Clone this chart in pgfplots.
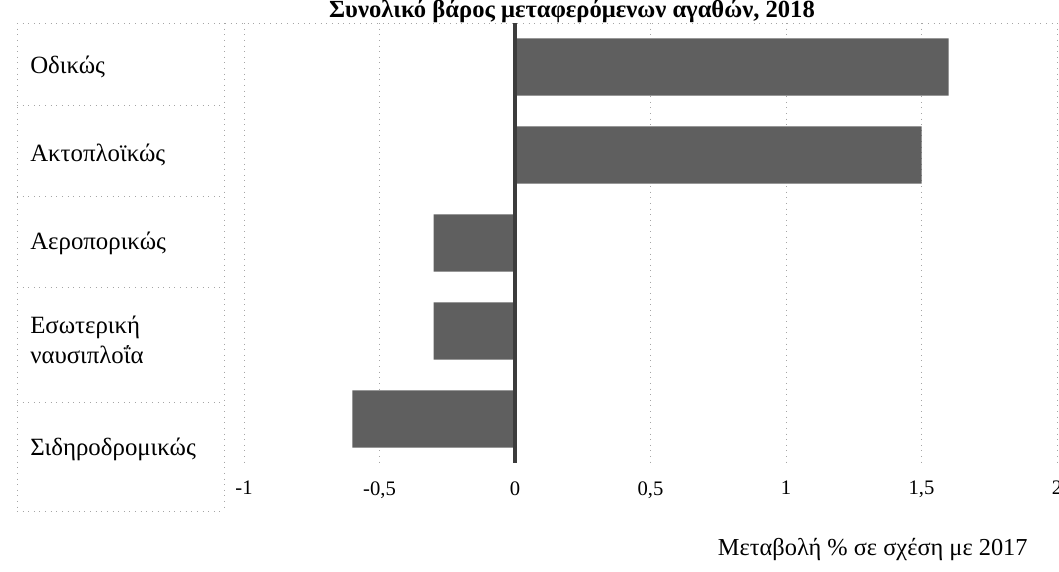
\documentclass[border=0pt]{standalone}
\usepackage{fontspec}
\setmainfont{Liberation Serif}
\usepackage{pgfplots}
\pgfplotsset{compat=1.18}
\definecolor{barfill}{RGB}{95,95,95}
\definecolor{gridgray}{RGB}{165,165,165}
\definecolor{zeroline}{RGB}{60,60,60}

\begin{document}
\begin{tikzpicture}
% 1 px of the reference = 0.015cm, origin top left
\begin{scope}[x=0.015cm, y=-0.015cm]
  % frame of the category column
  \draw[gridgray, dotted] (17,23) -- (1059,23);
  \foreach \yy in {105,196,287,402,511}
    \draw[gridgray, dotted] (17,\yy) -- (224,\yy);
  \draw[gridgray, dotted] (17,23) -- (17,511);
  \draw[gridgray, dotted] (224,23) -- (224,511);
  \node[font=\bfseries\fontsize{10.5}{12}\selectfont, anchor=base]
    at (572,17) {Συνολικό βάρος μεταφερόμενων αγαθών, 2018};
\end{scope}

\begin{axis}[
  at={(3.66cm,-6.945cm)}, anchor=south west,
  scale only axis, width=12.195cm, height=6.6cm,
  xbar, bar width=0.65,
  xmin=-1, xmax=2, ymin=-0.5, ymax=4.5, y dir=reverse,
  xtick={-1,-0.5,0,0.5,1,1.5,2},
  xticklabel style={font=\fontsize{8.8}{10}\selectfont, yshift=-0.15cm},
  /pgf/number format/use comma,
  /pgf/number format/assume math mode=true,
  ytick={0,1,2,3.1,4.35},
  yticklabels={Οδικώς,Ακτοπλοϊκώς,Αεροπορικώς,{Εσωτερική\\ναυσιπλοΐα},Σιδηροδρομικώς},
  yticklabel style={font=\fontsize{10.6}{12.6}\selectfont, anchor=west,
                    align=left, xshift=-3.33cm},
  axis line style={draw=none},
  major tick length=0pt,
  xmajorgrids, grid style={gridgray, dotted},
  xlabel={Μεταβολή \% σε σχέση με 2017},
  xlabel style={font=\fontsize{10.4}{12}\selectfont,
                at={(axis description cs:0.974,0)}, anchor=north east, yshift=-1.0cm},
]
\addplot[fill=barfill, draw=none] coordinates {
  (1.6,0) (1.5,1) (-0.3,2) (-0.3,3) (-0.6,4)
};
\draw[zeroline, line width=1.3pt] (axis cs:0,-0.5) -- (axis cs:0,4.5);
\end{axis}

\pgfresetboundingbox
\path[use as bounding box] (0,0) rectangle (15.885cm,-8.565cm);
\end{tikzpicture}
\end{document}
